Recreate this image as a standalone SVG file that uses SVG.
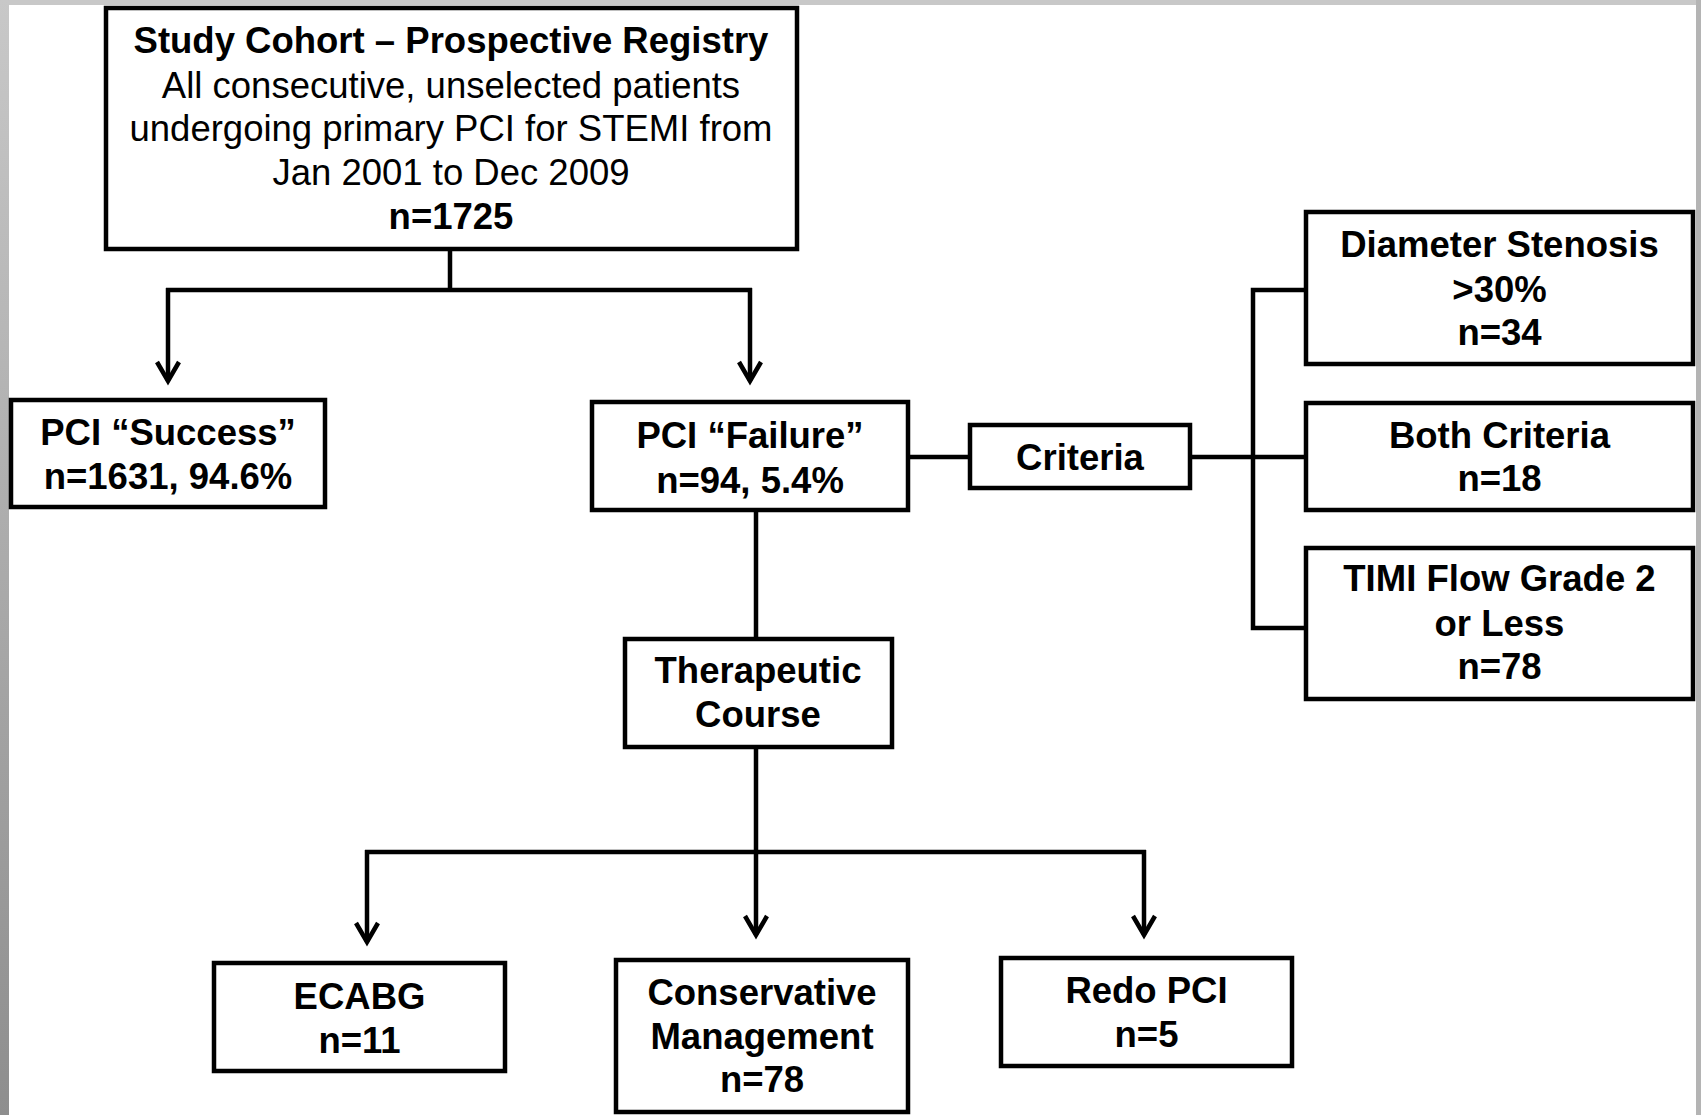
<svg xmlns="http://www.w3.org/2000/svg" width="1701" height="1115" viewBox="0 0 1701 1115">
<style>
.box{fill:#fff;stroke:#000;stroke-width:4.5}
.ln{fill:none;stroke:#000;stroke-width:4.5}
text{font-family:"Liberation Sans",Arial,sans-serif;font-size:36.5px;text-anchor:middle;fill:#000}
.b{font-weight:bold}
</style>
<defs>
<linearGradient id="lg" x1="0" y1="0" x2="0" y2="1">
<stop offset="0" stop-color="#c8c8c8"/>
<stop offset="1" stop-color="#8e8e8e"/>
</linearGradient>
<marker id="ah" markerUnits="userSpaceOnUse" markerWidth="40" markerHeight="40" viewBox="-30 -20 40 40" refX="0" refY="0" orient="auto" overflow="visible">
<path d="M-19 -11 L0 0 L-19 11" fill="none" stroke="#000" stroke-width="4.5" stroke-linejoin="miter"/>
</marker>
</defs>
<rect x="0" y="0" width="1701" height="1115" fill="#fff"/>
<rect x="0" y="0" width="1701" height="5" fill="#c8c8c8"/>
<rect x="1696" y="0" width="5" height="1115" fill="#b4b4b4"/>
<rect x="0" y="0" width="9" height="1115" fill="url(#lg)"/>

<g id="connectors">
<path class="ln" d="M450 249 V290"/>
<path class="ln" d="M166 290 H752"/>
<path class="ln" d="M168 288 V381" marker-end="url(#ah)"/>
<path class="ln" d="M750 288 V381" marker-end="url(#ah)"/>
<path class="ln" d="M908 457 H970"/>
<path class="ln" d="M1190 457 H1306"/>
<path class="ln" d="M1306 290 H1253 V628 H1306"/>
<path class="ln" d="M756 510 V639"/>
<path class="ln" d="M756 747 V935" marker-end="url(#ah)"/>
<path class="ln" d="M365 852 H1146"/>
<path class="ln" d="M367 850 V942" marker-end="url(#ah)"/>
<path class="ln" d="M1144 850 V935" marker-end="url(#ah)"/>
</g>

<g id="cohort">
<rect class="box" x="106" y="8" width="691" height="241"/>
<text class="b" x="451" y="53">Study Cohort – Prospective Registry</text>
<text x="451" y="97.5">All consecutive, unselected patients</text>
<text x="451" y="141">undergoing primary PCI for STEMI from</text>
<text x="451" y="184.5">Jan 2001 to Dec 2009</text>
<text class="b" x="451" y="229">n=1725</text>
</g>

<g id="success">
<rect class="box" x="11" y="400" width="314" height="107"/>
<text class="b" x="168" y="445">PCI “Success”</text>
<text class="b" x="168" y="489">n=1631, 94.6%</text>
</g>

<g id="failure">
<rect class="box" x="592" y="402" width="316" height="108"/>
<text class="b" x="750" y="448">PCI “Failure”</text>
<text class="b" x="750" y="492.5">n=94, 5.4%</text>
</g>

<g id="criteria">
<rect class="box" x="970" y="425" width="220" height="63"/>
<text class="b" x="1080" y="470">Criteria</text>
</g>

<g id="diameter">
<rect class="box" x="1306" y="212" width="387" height="152"/>
<text class="b" x="1499.5" y="257">Diameter Stenosis</text>
<text class="b" x="1499.5" y="301.5">&gt;30%</text>
<text class="b" x="1499.5" y="345">n=34</text>
</g>

<g id="both">
<rect class="box" x="1306" y="403" width="387" height="107"/>
<text class="b" x="1499.5" y="448">Both Criteria</text>
<text class="b" x="1499.5" y="491">n=18</text>
</g>

<g id="timi">
<rect class="box" x="1306" y="548" width="387" height="151"/>
<text class="b" x="1499.5" y="591">TIMI Flow Grade 2</text>
<text class="b" x="1499.5" y="635.5">or Less</text>
<text class="b" x="1499.5" y="679">n=78</text>
</g>

<g id="therapeutic">
<rect class="box" x="625" y="639" width="267" height="108"/>
<text class="b" x="758" y="683">Therapeutic</text>
<text class="b" x="758" y="727">Course</text>
</g>

<g id="ecabg">
<rect class="box" x="214" y="963" width="291" height="108"/>
<text class="b" x="359.5" y="1009">ECABG</text>
<text class="b" x="359.5" y="1053">n=11</text>
</g>

<g id="conservative">
<rect class="box" x="616" y="960" width="292" height="152"/>
<text class="b" x="762" y="1004.5">Conservative</text>
<text class="b" x="762" y="1049">Management</text>
<text class="b" x="762" y="1092">n=78</text>
</g>

<g id="redo">
<rect class="box" x="1001" y="958" width="291" height="108"/>
<text class="b" x="1146.5" y="1003">Redo PCI</text>
<text class="b" x="1146.5" y="1047">n=5</text>
</g>
</svg>
